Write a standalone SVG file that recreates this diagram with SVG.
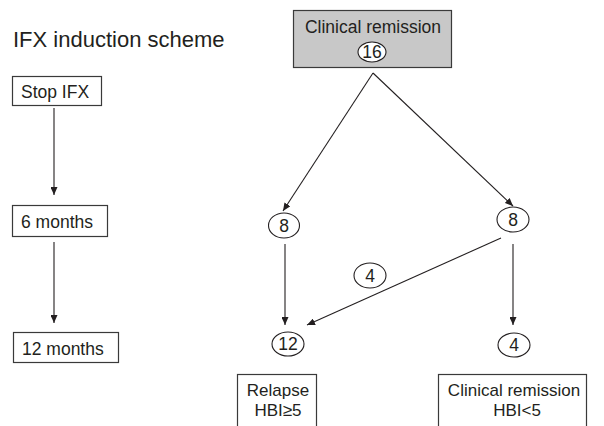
<svg xmlns="http://www.w3.org/2000/svg" width="604" height="426" viewBox="0 0 604 426">
<style>
text{font-family:"Liberation Sans",Arial,sans-serif;font-size:17.5px;fill:#231f20}
.c{text-anchor:middle}
.b{font-size:17px}
.box{fill:#fff;stroke:#3a3a3a;stroke-width:1.2}
.ell{fill:#fff;stroke:#231f20;stroke-width:1.1}
.ln{stroke:#231f20;stroke-width:1.1;fill:none;marker-end:url(#ah)}
</style>
<defs>
<marker id="ah" markerUnits="userSpaceOnUse" markerWidth="9" markerHeight="7" refX="8" refY="3.5" orient="auto">
<path d="M0,0 L8,3.5 L0,7 z" fill="#231f20"/>
</marker>
</defs>
<rect width="604" height="426" fill="#fff"/>
<text x="13" y="47" style="font-size:22px">IFX induction scheme</text>

<g id="stop-ifx"><rect class="box" x="12.5" y="76.5" width="89" height="29"/><text x="21" y="98">Stop IFX</text></g>
<g id="six-months"><rect class="box" x="12.5" y="205.5" width="95" height="31"/><text x="21" y="228">6 months</text></g>
<g id="twelve-months"><rect class="box" x="13.5" y="332.5" width="105" height="30"/><text x="22" y="355">12 months</text></g>

<g id="clinical-remission-top"><rect x="293.5" y="10.5" width="158" height="57" fill="#c8c8c8" stroke="#3a3a3a" stroke-width="1.2"/><text class="c" x="373" y="33">Clinical remission</text><ellipse class="ell" cx="372" cy="52" rx="14" ry="10"/><text class="c" x="372" y="58">16</text></g>

<g id="n8-left"><ellipse class="ell" cx="284" cy="225.5" rx="15.5" ry="12.5"/><text class="c" x="284" y="231.5">8</text></g>
<g id="n8-right"><ellipse class="ell" cx="513" cy="219.5" rx="16" ry="12.5"/><text class="c" x="513" y="225.5">8</text></g>
<g id="n4-mid"><ellipse class="ell" cx="370" cy="275.5" rx="16" ry="12.5"/><text class="c" x="370" y="281.5">4</text></g>
<g id="n12"><ellipse class="ell" cx="288" cy="344" rx="16" ry="12"/><text class="c" x="288" y="350">12</text></g>
<g id="n4-right"><ellipse class="ell" cx="514" cy="345" rx="16" ry="12"/><text class="c" x="514" y="351">4</text></g>

<g id="relapse"><rect class="box" x="237.5" y="374.5" width="79" height="60"/><text class="c b" x="278" y="395.5">Relapse</text><text class="c b" x="278" y="415.5">HBI≥5</text></g>
<g id="clinical-remission-bottom"><rect class="box" x="438.5" y="374.5" width="148" height="60"/><text class="c b" x="514" y="395.5">Clinical remission</text><text class="c b" x="517" y="415.5">HBI&lt;5</text></g>

<g id="connectors">
<line class="ln" x1="54" y1="108" x2="54" y2="195"/>
<line class="ln" x1="54" y1="242" x2="54" y2="323"/>
<line class="ln" x1="373" y1="73" x2="283" y2="211"/>
<line class="ln" x1="373" y1="73" x2="513" y2="206"/>
<line class="ln" x1="285" y1="244" x2="285" y2="325"/>
<line class="ln" x1="513" y1="244" x2="513" y2="325"/>
<line class="ln" x1="501" y1="238" x2="307" y2="325"/>
</g>
</svg>
